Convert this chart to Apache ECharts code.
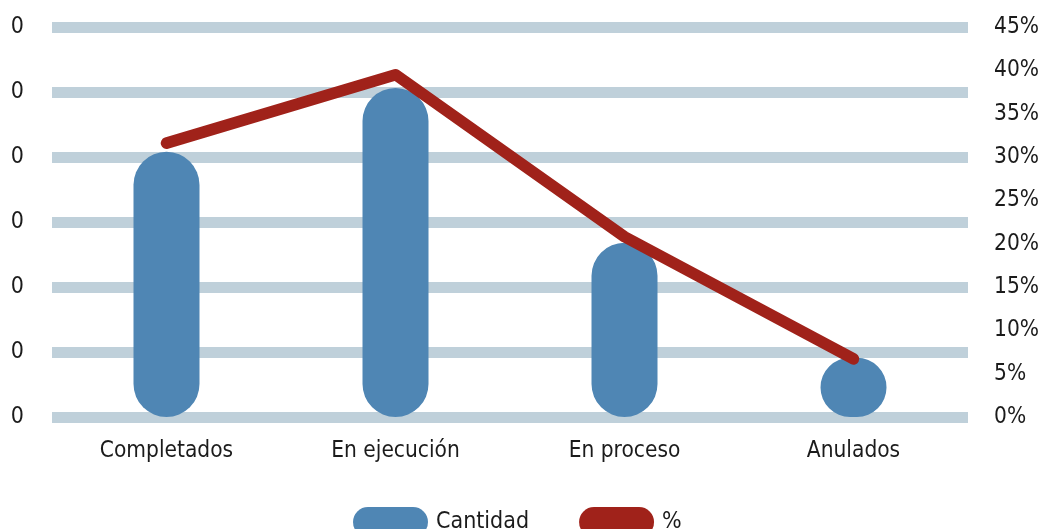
<!DOCTYPE html>
<html>
<head>
<meta charset="utf-8">
<script src="https://cdn.jsdelivr.net/npm/echarts@6/dist/echarts.min.js"></script>
<style>
  html, body { margin: 0; padding: 0; background: #fff; }
  #chart { width: 1042px; height: 529px; }
</style>
</head>
<body>
<div id="chart"></div>
<script>
// datos del gráfico
const categorias = ["Completados", "En ejecución", "En proceso", "Anulados"];
const cantidad = [4.08, 5.06, 2.68, 0.91];
const porcentaje = [31.6, 39.5, 20.8, 6.7];
const etiquetasIzq = ["0", "0", "0", "0", "0", "0", "0"];

const FONT = "'DejaVu Sans Condensed', 'Liberation Sans Narrow', sans-serif";
const TXT = "#1b1b1b";
// icono tipo cápsula para la leyenda
const capsula = "path://M15,0 H60 A15,15 0 0 1 60,30 H15 A15,15 0 0 1 15,0 Z";

const chart = echarts.init(document.getElementById("chart"));

const option = {
  animation: false,
  grid: { left: 52, right: 73, top: 27, bottom: 112 },
  legend: {
    left: 348,
    top: 502,
    itemWidth: 75,
    itemHeight: 30,
    itemGap: 50,
    textStyle: { fontFamily: FONT, fontSize: 23, color: TXT, padding: [0, 0, 0, 3] },
    data: [
      { name: "Cantidad", icon: capsula },
      { name: "%", icon: capsula },
    ],
  },
  xAxis: {
    type: "category",
    data: categorias,
    axisLine: { show: false },
    axisTick: { show: false },
    axisLabel: { fontFamily: FONT, fontSize: 22.5, color: TXT, margin: 23 },
  },
  yAxis: [
    {
      type: "value",
      min: 0,
      max: 6,
      interval: 1,
      axisLine: { show: false },
      axisTick: { show: false },
      axisLabel: {
        fontFamily: FONT,
        fontSize: 23,
        color: TXT,
        margin: 28,
        formatter: (v) => etiquetasIzq[Math.round(v)],
      },
      splitLine: { show: true, lineStyle: { color: "#bfd0da", width: 11 } },
    },
    {
      type: "value",
      min: 0,
      max: 45,
      interval: 5,
      axisLine: { show: false },
      axisTick: { show: false },
      axisLabel: {
        fontFamily: FONT,
        fontSize: 22.5,
        color: TXT,
        margin: 26,
        formatter: "{value}%",
      },
      splitLine: { show: false },
    },
  ],
  series: [
    {
      name: "Cantidad",
      type: "bar",
      yAxisIndex: 0,
      data: cantidad,
      barWidth: 66,
      itemStyle: { color: "#4f86b4", borderRadius: 33 },
      z: 2,
    },
    {
      name: "%",
      type: "line",
      yAxisIndex: 1,
      data: porcentaje,
      showSymbol: false,
      symbol: "none",
      color: "#a0221a",
      lineStyle: { color: "#a0221a", width: 11.5, cap: "round", join: "round" },
      z: 3,
    },
  ],
};

chart.setOption(option);
</script>
</body>
</html>
